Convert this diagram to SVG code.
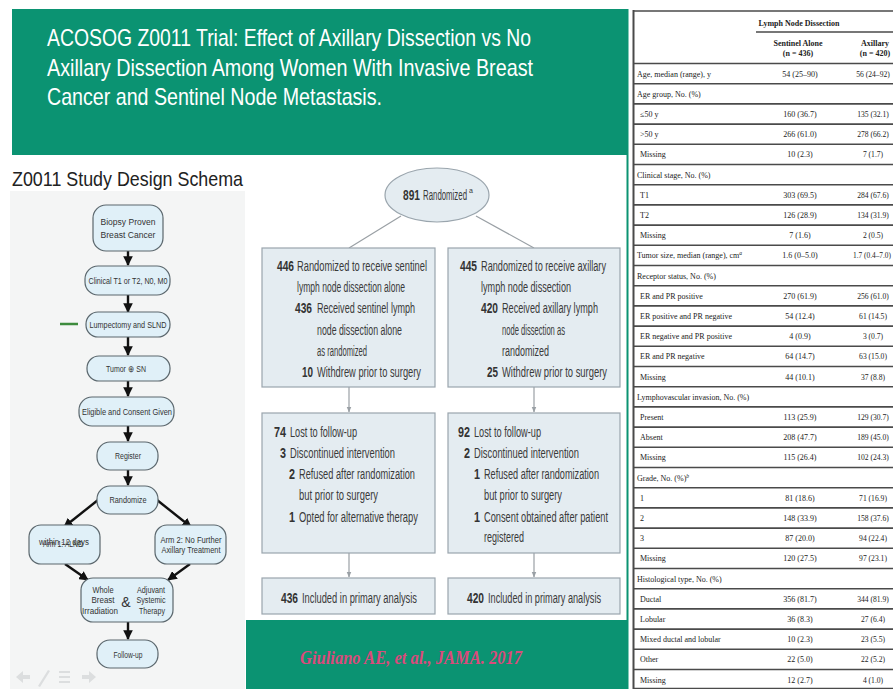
<svg xmlns="http://www.w3.org/2000/svg" width="893" height="689" viewBox="0 0 893 689">
  <defs>
    <style>
      .title { font-family: "Liberation Sans", Arial, sans-serif; font-size: 24px; fill: #ffffff; }
      .schema-title { font-family: "Liberation Sans", Arial, sans-serif; font-size: 21px; fill: #222222; }
      .sn { fill: #e0f0f8; stroke: #5b676d; stroke-width: 1.2; }
      .st { font-family: "Liberation Sans", Arial, sans-serif; font-size: 8.5px; fill: #333333; text-anchor: middle; }
      .sa { stroke: #111111; stroke-width: 2.4; fill: none; marker-end: url(#blk); }
      .fb { fill: #e4ecf1; stroke: #9aa5ad; stroke-width: 1.2; }
      .fn { font-family: "Liberation Sans", Arial, sans-serif; font-size: 14px; font-weight: bold; fill: #333333; }
      .ft { font-family: "Liberation Sans", Arial, sans-serif; font-size: 14px; fill: #3a3a3a; }
      .fc { stroke: #9aa0a5; stroke-width: 1.2; fill: none; }
      .fa { stroke: #9aa0a5; stroke-width: 1.2; fill: none; marker-end: url(#gry); }
      .tl { font-family: "Liberation Serif", "Times New Roman", serif; font-size: 8px; fill: #222222; }
      .tv { font-family: "Liberation Serif", "Times New Roman", serif; font-size: 8px; fill: #222222; text-anchor: middle; }
      .tx { font-family: "Liberation Serif", "Times New Roman", serif; font-size: 7.6px; fill: #222222; text-anchor: middle; }
      .th { font-family: "Liberation Serif", "Times New Roman", serif; font-size: 8px; font-weight: bold; fill: #222222; text-anchor: middle; }
      .rule { stroke: #4a4a4a; stroke-width: 1.6; }
    </style>
    <marker id="blk" viewBox="0 0 10 10" refX="9" refY="5" markerWidth="4" markerHeight="4" orient="auto" markerUnits="strokeWidth">
      <path d="M0,0 L10,5 L0,10 z" fill="#111111"/>
    </marker>
    <marker id="gry" viewBox="0 0 10 10" refX="9" refY="5" markerWidth="5" markerHeight="5" orient="auto" markerUnits="strokeWidth">
      <path d="M0,1 L10,5 L0,9 z" fill="#9aa0a5"/>
    </marker>
  </defs>

  <rect width="893" height="689" fill="#ffffff"/>

  <!-- Title banner -->
  <g id="title-banner">
    <rect x="12" y="9" width="616" height="146" fill="#0b9372"/>
    <line x1="627.5" y1="9" x2="627.5" y2="689" stroke="#0b9372" stroke-width="2"/>
    <text class="title" x="47" y="46" textLength="484" lengthAdjust="spacingAndGlyphs">ACOSOG Z0011 Trial:  Effect of Axillary Dissection vs No</text>
    <text class="title" x="47" y="75.5" textLength="486" lengthAdjust="spacingAndGlyphs">Axillary Dissection Among Women With Invasive Breast</text>
    <text class="title" x="47" y="105" textLength="335" lengthAdjust="spacingAndGlyphs">Cancer and Sentinel Node Metastasis.</text>
  </g>

  <!-- Study design schema (left) -->
  <text class="schema-title" x="12" y="186" textLength="231" lengthAdjust="spacingAndGlyphs">Z0011 Study Design Schema</text>
  <rect x="10" y="191" width="235" height="498" fill="#f4f5f5"/>

  <g id="schema-connectors">
    <line class="sa" x1="128" y1="251" x2="128" y2="265"/>
    <line class="sa" x1="128" y1="295" x2="128" y2="312"/>
    <line class="sa" x1="128" y1="337" x2="128" y2="355"/>
    <line class="sa" x1="128" y1="381" x2="128" y2="396"/>
    <line class="sa" x1="128" y1="426" x2="128" y2="441"/>
    <line class="sa" x1="128" y1="470" x2="128" y2="485"/>
    <line class="sa" x1="98" y1="500" x2="64" y2="527"/>
    <line class="sa" x1="157" y1="500" x2="191" y2="527"/>
    <line class="sa" x1="65" y1="564" x2="88" y2="580"/>
    <line class="sa" x1="190" y1="564" x2="168" y2="580"/>
    <line class="sa" x1="128" y1="622" x2="128" y2="639"/>
    <line x1="60" y1="324" x2="78" y2="324" stroke="#3d8b3d" stroke-width="2.5"/>
  </g>

  <g id="s-biopsy">
    <rect class="sn" x="93" y="205" width="70" height="46" rx="13"/>
    <text class="st" x="128" y="225" textLength="55" lengthAdjust="spacingAndGlyphs">Biopsy Proven</text>
    <text class="st" x="128" y="238" textLength="55" lengthAdjust="spacingAndGlyphs">Breast Cancer</text>
  </g>
  <g id="s-clinical">
    <rect class="sn" x="85" y="266" width="85" height="29" rx="13"/>
    <text class="st" x="128" y="284" textLength="79" lengthAdjust="spacingAndGlyphs">Clinical T1 or T2, N0, M0</text>
  </g>
  <g id="s-lumpectomy">
    <rect class="sn" x="86" y="312" width="84" height="25" rx="12"/>
    <text class="st" x="128" y="327.5" textLength="77" lengthAdjust="spacingAndGlyphs">Lumpectomy and SLND</text>
  </g>
  <g id="s-tumor">
    <rect class="sn" x="87" y="356" width="83" height="25" rx="12"/>
    <text class="st" x="126" y="371.5" textLength="40" lengthAdjust="spacingAndGlyphs">Tumor ⊕ SN</text>
  </g>
  <g id="s-eligible">
    <rect class="sn" x="79" y="397" width="95" height="29" rx="13"/>
    <text class="st" x="127" y="415" textLength="90" lengthAdjust="spacingAndGlyphs">Eligible and Consent Given</text>
  </g>
  <g id="s-register">
    <rect class="sn" x="97" y="442" width="61" height="28" rx="13"/>
    <text class="st" x="128" y="459" textLength="26" lengthAdjust="spacingAndGlyphs">Register</text>
  </g>
  <g id="s-randomize">
    <rect class="sn" x="97" y="486" width="61" height="28" rx="13"/>
    <text class="st" x="128" y="503" textLength="37" lengthAdjust="spacingAndGlyphs">Randomize</text>
  </g>
  <g id="s-arm1">
    <rect class="sn" x="29" y="525" width="71" height="39" rx="12"/>
    <text class="st" x="63" y="547" textLength="40" lengthAdjust="spacingAndGlyphs">Arm 1: ALND</text>
    <text class="st" x="64" y="545" textLength="50" lengthAdjust="spacingAndGlyphs">within 12 days</text>
  </g>
  <g id="s-arm2">
    <rect class="sn" x="155" y="525" width="71" height="39" rx="12"/>
    <text class="st" x="191" y="543" textLength="61" lengthAdjust="spacingAndGlyphs">Arm 2: No Further</text>
    <text class="st" x="191" y="553" textLength="59" lengthAdjust="spacingAndGlyphs">Axillary Treatment</text>
  </g>
  <g id="s-adjuvant">
    <rect class="sn" x="81" y="578" width="92" height="44" rx="12"/>
    <text class="st" x="103" y="593" textLength="21" lengthAdjust="spacingAndGlyphs">Whole</text>
    <text class="st" x="103" y="603" textLength="23" lengthAdjust="spacingAndGlyphs">Breast</text>
    <text class="st" x="100" y="614" textLength="36" lengthAdjust="spacingAndGlyphs">Irradiation</text>
    <text class="st" x="126" y="607" style="font-size:14px">&amp;</text>
    <text class="st" x="151" y="593" textLength="28" lengthAdjust="spacingAndGlyphs">Adjuvant</text>
    <text class="st" x="151" y="603" textLength="29" lengthAdjust="spacingAndGlyphs">Systemic</text>
    <text class="st" x="152" y="614" textLength="26" lengthAdjust="spacingAndGlyphs">Therapy</text>
  </g>
  <g id="s-followup">
    <rect class="sn" x="97" y="640" width="61" height="28" rx="13"/>
    <text class="st" x="128" y="658" textLength="29" lengthAdjust="spacingAndGlyphs">Follow-up</text>
  </g>

  <!-- slideshow navigation glyphs -->
  <g id="nav-icons" fill="#dcdedf" stroke="none">
    <path d="M16,677 L23,671 L23,675 L30,675 L30,679 L23,679 L23,683 z"/>
    <path d="M38,686 L48,670 L50,671 L40,687 z"/>
    <rect x="59" y="671" width="11" height="2"/>
    <rect x="59" y="676" width="11" height="2"/>
    <rect x="59" y="681" width="11" height="2"/>
    <path d="M96,677 L89,671 L89,675 L82,675 L82,679 L89,679 L89,683 z"/>
  </g>

  <!-- CONSORT flow (middle) -->
  <g id="flow-connectors">
    <line class="fc" x1="401" y1="216" x2="349" y2="248"/>
    <line class="fc" x1="476" y1="216" x2="534" y2="248"/>
    <line class="fa" x1="349" y1="387" x2="349" y2="412"/>
    <line class="fa" x1="534" y1="387" x2="534" y2="412"/>
    <line class="fa" x1="349" y1="553" x2="349" y2="577"/>
    <line class="fa" x1="534" y1="553" x2="534" y2="577"/>
  </g>

  <g id="randomized">
    <ellipse class="fb" cx="437" cy="195" rx="52" ry="27"/>
    <text class="fn" x="403" y="200" textLength="17" lengthAdjust="spacingAndGlyphs">891</text>
    <text class="ft" x="423" y="200" textLength="44" lengthAdjust="spacingAndGlyphs">Randomized</text>
    <text class="ft" x="469" y="193" style="font-size:7px">a</text>
  </g>

  <g id="sln-arm">
    <rect class="fb" x="262" y="248" width="173" height="139"/>
    <text class="fn" x="277" y="270.5" textLength="17" lengthAdjust="spacingAndGlyphs">446</text>
    <text class="ft" x="297" y="270.5" textLength="130" lengthAdjust="spacingAndGlyphs">Randomized to receive sentinel</text>
    <text class="ft" x="297" y="291.5" textLength="108" lengthAdjust="spacingAndGlyphs">lymph node dissection alone</text>
    <text class="fn" x="295" y="313" textLength="17" lengthAdjust="spacingAndGlyphs">436</text>
    <text class="ft" x="317" y="313" textLength="98" lengthAdjust="spacingAndGlyphs">Received sentinel lymph</text>
    <text class="ft" x="317" y="334.5" textLength="85" lengthAdjust="spacingAndGlyphs">node dissection alone</text>
    <text class="ft" x="317" y="355.5" textLength="50" lengthAdjust="spacingAndGlyphs">as randomized</text>
    <text class="fn" x="302" y="377" textLength="11" lengthAdjust="spacingAndGlyphs">10</text>
    <text class="ft" x="317" y="377" textLength="104" lengthAdjust="spacingAndGlyphs">Withdrew prior to surgery</text>
  </g>

  <g id="aln-arm">
    <rect class="fb" x="448" y="248" width="172" height="139"/>
    <text class="fn" x="460" y="270.5" textLength="17" lengthAdjust="spacingAndGlyphs">445</text>
    <text class="ft" x="481" y="270.5" textLength="125" lengthAdjust="spacingAndGlyphs">Randomized to receive axillary</text>
    <text class="ft" x="481" y="291.5" textLength="90" lengthAdjust="spacingAndGlyphs">lymph node dissection</text>
    <text class="fn" x="481" y="313" textLength="17" lengthAdjust="spacingAndGlyphs">420</text>
    <text class="ft" x="502" y="313" textLength="96" lengthAdjust="spacingAndGlyphs">Received axillary lymph</text>
    <text class="ft" x="502" y="334.5" textLength="63" lengthAdjust="spacingAndGlyphs">node dissection as</text>
    <text class="ft" x="502" y="355.5" textLength="47" lengthAdjust="spacingAndGlyphs">randomized</text>
    <text class="fn" x="487" y="377" textLength="11" lengthAdjust="spacingAndGlyphs">25</text>
    <text class="ft" x="502" y="377" textLength="105" lengthAdjust="spacingAndGlyphs">Withdrew prior to surgery</text>
  </g>

  <g id="sln-followup">
    <rect class="fb" x="262" y="413" width="173" height="140"/>
    <text class="fn" x="274" y="437" textLength="12" lengthAdjust="spacingAndGlyphs">74</text>
    <text class="ft" x="290" y="437" textLength="67" lengthAdjust="spacingAndGlyphs">Lost to follow-up</text>
    <text class="fn" x="280" y="457.5" textLength="6" lengthAdjust="spacingAndGlyphs">3</text>
    <text class="ft" x="290" y="457.5" textLength="105" lengthAdjust="spacingAndGlyphs">Discontinued intervention</text>
    <text class="fn" x="289" y="479" textLength="6" lengthAdjust="spacingAndGlyphs">2</text>
    <text class="ft" x="299" y="479" textLength="116" lengthAdjust="spacingAndGlyphs">Refused after randomization</text>
    <text class="ft" x="299" y="500" textLength="79" lengthAdjust="spacingAndGlyphs">but prior to surgery</text>
    <text class="fn" x="289" y="521.5" textLength="6" lengthAdjust="spacingAndGlyphs">1</text>
    <text class="ft" x="299" y="521.5" textLength="119" lengthAdjust="spacingAndGlyphs">Opted for alternative therapy</text>
  </g>

  <g id="aln-followup">
    <rect class="fb" x="448" y="413" width="172" height="140"/>
    <text class="fn" x="458" y="437" textLength="12" lengthAdjust="spacingAndGlyphs">92</text>
    <text class="ft" x="474" y="437" textLength="67" lengthAdjust="spacingAndGlyphs">Lost to follow-up</text>
    <text class="fn" x="464" y="457.5" textLength="6" lengthAdjust="spacingAndGlyphs">2</text>
    <text class="ft" x="474" y="457.5" textLength="105" lengthAdjust="spacingAndGlyphs">Discontinued intervention</text>
    <text class="fn" x="474" y="479" textLength="6" lengthAdjust="spacingAndGlyphs">1</text>
    <text class="ft" x="484" y="479" textLength="115" lengthAdjust="spacingAndGlyphs">Refused after randomization</text>
    <text class="ft" x="484" y="500" textLength="78" lengthAdjust="spacingAndGlyphs">but prior to surgery</text>
    <text class="fn" x="474" y="521.5" textLength="6" lengthAdjust="spacingAndGlyphs">1</text>
    <text class="ft" x="484" y="521.5" textLength="124" lengthAdjust="spacingAndGlyphs">Consent obtained after patient</text>
    <text class="ft" x="484" y="542" textLength="40" lengthAdjust="spacingAndGlyphs">registered</text>
  </g>

  <g id="sln-analysis">
    <rect class="fb" x="262" y="578" width="173" height="36"/>
    <text class="fn" x="281" y="603" textLength="17" lengthAdjust="spacingAndGlyphs">436</text>
    <text class="ft" x="302" y="603" textLength="115" lengthAdjust="spacingAndGlyphs">Included in primary analysis</text>
  </g>

  <g id="aln-analysis">
    <rect class="fb" x="448" y="578" width="172" height="36"/>
    <text class="fn" x="467" y="603" textLength="17" lengthAdjust="spacingAndGlyphs">420</text>
    <text class="ft" x="488" y="603" textLength="113" lengthAdjust="spacingAndGlyphs">Included in primary analysis</text>
  </g>

  <!-- Citation banner -->
  <g id="citation">
    <rect x="246" y="620" width="382" height="69" fill="#0b9372"/>
    <text x="300" y="664" textLength="222" lengthAdjust="spacingAndGlyphs" style="font-family:'Liberation Serif','Times New Roman',serif;font-style:italic;font-weight:bold;font-size:19px;fill:#db4a7c">Giuliano AE, et al., JAMA. 2017</text>
  </g>

  <!-- Baseline characteristics table -->
  <g id="table">
    <line x1="633.5" y1="10" x2="633.5" y2="689" stroke="#4a4a4a" stroke-width="2"/>
    <line class="rule" x1="633" y1="11" x2="893" y2="11"/>
    <text class="th" x="799" y="26">Lymph Node Dissection</text>
    <line class="rule" x1="756" y1="32" x2="893" y2="32"/>
    <text class="th" x="798" y="46">Sentinel Alone</text>
    <text class="th" x="798" y="56">(n = 436)</text>
    <text class="th" x="875" y="46">Axillary</text>
    <text class="th" x="875" y="56">(n = 420)</text>

    <g id="table-rules">
      <line class="rule" x1="633" y1="63.5" x2="893" y2="63.5"/>
      <line class="rule" x1="633" y1="83.7" x2="893" y2="83.7"/>
      <line class="rule" x1="633" y1="103.9" x2="893" y2="103.9"/>
      <line class="rule" x1="633" y1="124.1" x2="893" y2="124.1"/>
      <line class="rule" x1="633" y1="144.3" x2="893" y2="144.3"/>
      <line class="rule" x1="633" y1="164.5" x2="893" y2="164.5"/>
      <line class="rule" x1="633" y1="184.7" x2="893" y2="184.7"/>
      <line class="rule" x1="633" y1="204.9" x2="893" y2="204.9"/>
      <line class="rule" x1="633" y1="225.1" x2="893" y2="225.1"/>
      <line class="rule" x1="633" y1="245.3" x2="893" y2="245.3"/>
      <line class="rule" x1="633" y1="265.5" x2="893" y2="265.5"/>
      <line class="rule" x1="633" y1="285.7" x2="893" y2="285.7"/>
      <line class="rule" x1="633" y1="305.9" x2="893" y2="305.9"/>
      <line class="rule" x1="633" y1="326.1" x2="893" y2="326.1"/>
      <line class="rule" x1="633" y1="346.3" x2="893" y2="346.3"/>
      <line class="rule" x1="633" y1="366.5" x2="893" y2="366.5"/>
      <line class="rule" x1="633" y1="386.7" x2="893" y2="386.7"/>
      <line class="rule" x1="633" y1="406.9" x2="893" y2="406.9"/>
      <line class="rule" x1="633" y1="427.1" x2="893" y2="427.1"/>
      <line class="rule" x1="633" y1="447.3" x2="893" y2="447.3"/>
      <line class="rule" x1="633" y1="467.5" x2="893" y2="467.5"/>
      <line class="rule" x1="633" y1="487.7" x2="893" y2="487.7"/>
      <line class="rule" x1="633" y1="507.9" x2="893" y2="507.9"/>
      <line class="rule" x1="633" y1="528.1" x2="893" y2="528.1"/>
      <line class="rule" x1="633" y1="548.3" x2="893" y2="548.3"/>
      <line class="rule" x1="633" y1="568.5" x2="893" y2="568.5"/>
      <line class="rule" x1="633" y1="588.7" x2="893" y2="588.7"/>
      <line class="rule" x1="633" y1="608.9" x2="893" y2="608.9"/>
      <line class="rule" x1="633" y1="629.1" x2="893" y2="629.1"/>
      <line class="rule" x1="633" y1="649.3" x2="893" y2="649.3"/>
      <line class="rule" x1="633" y1="669.5" x2="893" y2="669.5"/>
      <line class="rule" x1="633" y1="688.6" x2="893" y2="688.6"/>
    </g>

    <g id="table-labels">
      <text class="tl" x="637" y="76.5">Age, median (range), y</text>
      <text class="tl" x="637" y="96.7">Age group, No. (%)</text>
      <text class="tl" x="640" y="116.9">≤50 y</text>
      <text class="tl" x="640" y="137.1">&gt;50 y</text>
      <text class="tl" x="640" y="157.3">Missing</text>
      <text class="tl" x="637" y="177.5">Clinical stage, No. (%)</text>
      <text class="tl" x="640" y="197.7">T1</text>
      <text class="tl" x="640" y="217.9">T2</text>
      <text class="tl" x="640" y="238.1">Missing</text>
      <text class="tl" x="637" y="258.3">Tumor size, median (range), cm<tspan dy="-3" style="font-size:5.5px;font-style:italic">a</tspan></text>
      <text class="tl" x="637" y="278.5">Receptor status, No. (%)</text>
      <text class="tl" x="640" y="298.7">ER and PR positive</text>
      <text class="tl" x="640" y="318.9">ER positive and PR negative</text>
      <text class="tl" x="640" y="339.1">ER negative and PR positive</text>
      <text class="tl" x="640" y="359.3">ER and PR negative</text>
      <text class="tl" x="640" y="379.5">Missing</text>
      <text class="tl" x="637" y="399.7">Lymphovascular invasion, No. (%)</text>
      <text class="tl" x="640" y="419.9">Present</text>
      <text class="tl" x="640" y="440.1">Absent</text>
      <text class="tl" x="640" y="460.3">Missing</text>
      <text class="tl" x="637" y="480.5">Grade, No. (%)<tspan dy="-3" style="font-size:5.5px;font-style:italic">b</tspan></text>
      <text class="tl" x="640" y="500.7">1</text>
      <text class="tl" x="640" y="520.9">2</text>
      <text class="tl" x="640" y="541.1">3</text>
      <text class="tl" x="640" y="561.3">Missing</text>
      <text class="tl" x="637" y="581.5">Histological type, No. (%)</text>
      <text class="tl" x="640" y="601.7">Ductal</text>
      <text class="tl" x="640" y="621.9">Lobular</text>
      <text class="tl" x="640" y="642.1">Mixed ductal and lobular</text>
      <text class="tl" x="640" y="662.3">Other</text>
      <text class="tl" x="640" y="682.5">Missing</text>
    </g>

    <g id="table-sentinel">
      <text class="tv" x="800" y="76.5">54 (25–90)</text>
      <text class="tv" x="800" y="116.9">160 (36.7)</text>
      <text class="tv" x="800" y="137.1">266 (61.0)</text>
      <text class="tv" x="800" y="157.3">10 (2.3)</text>
      <text class="tv" x="800" y="197.7">303 (69.5)</text>
      <text class="tv" x="800" y="217.9">126 (28.9)</text>
      <text class="tv" x="800" y="238.1">7 (1.6)</text>
      <text class="tv" x="800" y="258.3">1.6 (0–5.0)</text>
      <text class="tv" x="800" y="298.7">270 (61.9)</text>
      <text class="tv" x="800" y="318.9">54 (12.4)</text>
      <text class="tv" x="800" y="339.1">4 (0.9)</text>
      <text class="tv" x="800" y="359.3">64 (14.7)</text>
      <text class="tv" x="800" y="379.5">44 (10.1)</text>
      <text class="tv" x="800" y="419.9">113 (25.9)</text>
      <text class="tv" x="800" y="440.1">208 (47.7)</text>
      <text class="tv" x="800" y="460.3">115 (26.4)</text>
      <text class="tv" x="800" y="500.7">81 (18.6)</text>
      <text class="tv" x="800" y="520.9">148 (33.9)</text>
      <text class="tv" x="800" y="541.1">87 (20.0)</text>
      <text class="tv" x="800" y="561.3">120 (27.5)</text>
      <text class="tv" x="800" y="601.7">356 (81.7)</text>
      <text class="tv" x="800" y="621.9">36 (8.3)</text>
      <text class="tv" x="800" y="642.1">10 (2.3)</text>
      <text class="tv" x="800" y="662.3">22 (5.0)</text>
      <text class="tv" x="800" y="682.5">12 (2.7)</text>
    </g>

    <g id="table-axillary">
      <text class="tx" x="873" y="76.5">56 (24–92)</text>
      <text class="tx" x="873" y="116.9">135 (32.1)</text>
      <text class="tx" x="873" y="137.1">278 (66.2)</text>
      <text class="tx" x="873" y="157.3">7 (1.7)</text>
      <text class="tx" x="873" y="197.7">284 (67.6)</text>
      <text class="tx" x="873" y="217.9">134 (31.9)</text>
      <text class="tx" x="873" y="238.1">2 (0.5)</text>
      <text class="tx" x="872" y="258.3" textLength="38" lengthAdjust="spacingAndGlyphs">1.7 (0.4–7.0)</text>
      <text class="tx" x="873" y="298.7">256 (61.0)</text>
      <text class="tx" x="873" y="318.9">61 (14.5)</text>
      <text class="tx" x="873" y="339.1">3 (0.7)</text>
      <text class="tx" x="873" y="359.3">63 (15.0)</text>
      <text class="tx" x="873" y="379.5">37 (8.8)</text>
      <text class="tx" x="873" y="419.9">129 (30.7)</text>
      <text class="tx" x="873" y="440.1">189 (45.0)</text>
      <text class="tx" x="873" y="460.3">102 (24.3)</text>
      <text class="tx" x="873" y="500.7">71 (16.9)</text>
      <text class="tx" x="873" y="520.9">158 (37.6)</text>
      <text class="tx" x="873" y="541.1">94 (22.4)</text>
      <text class="tx" x="873" y="561.3">97 (23.1)</text>
      <text class="tx" x="873" y="601.7">344 (81.9)</text>
      <text class="tx" x="873" y="621.9">27 (6.4)</text>
      <text class="tx" x="873" y="642.1">23 (5.5)</text>
      <text class="tx" x="873" y="662.3">22 (5.2)</text>
      <text class="tx" x="873" y="682.5">4 (1.0)</text>
    </g>
  </g>
</svg>
